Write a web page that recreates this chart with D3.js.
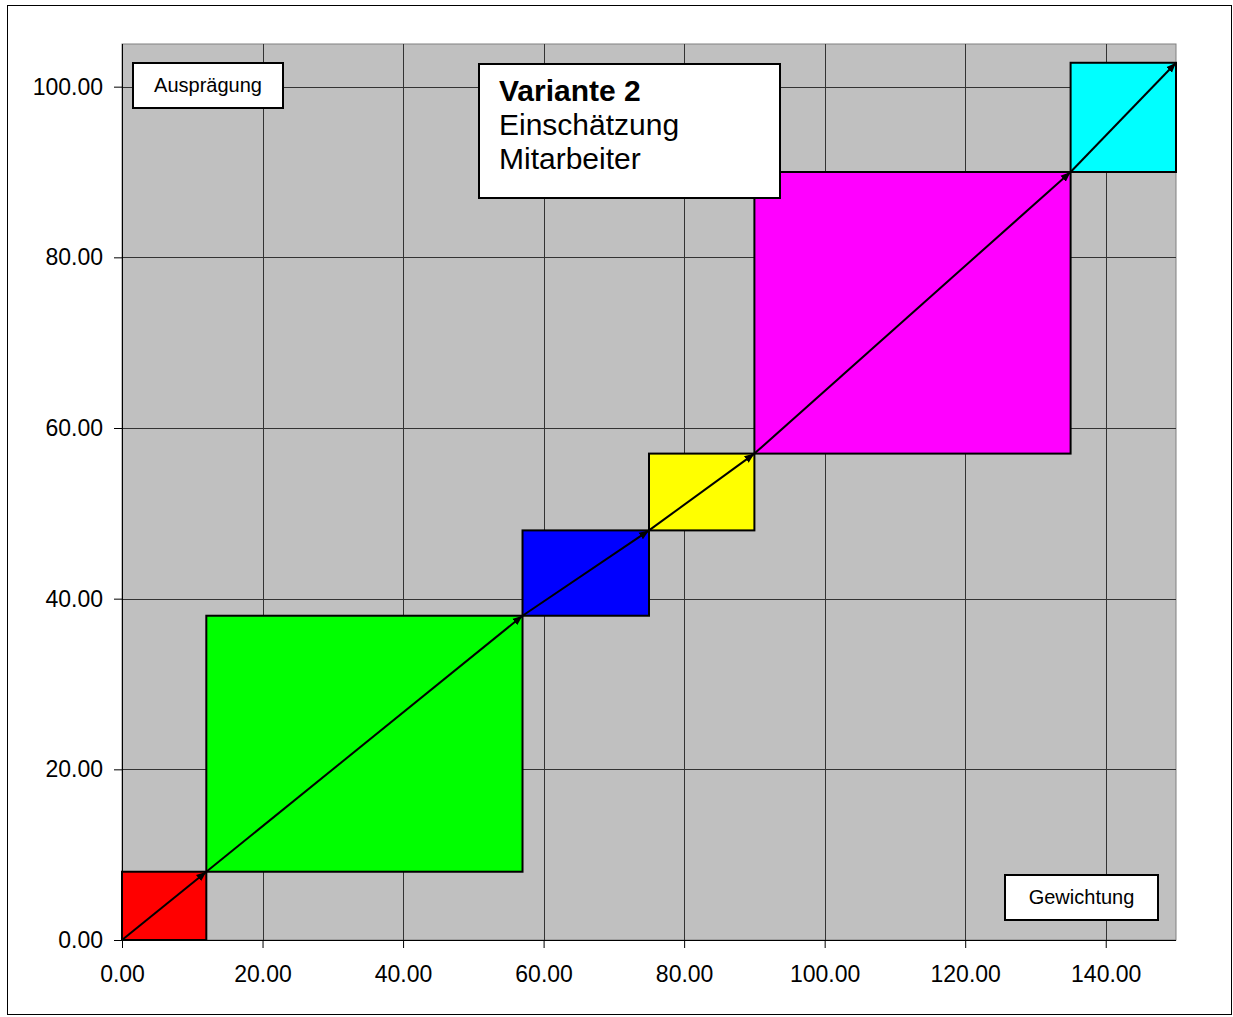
<!DOCTYPE html>
<html>
<head>
<meta charset="utf-8">
<script src="https://cdn.jsdelivr.net/npm/d3@7"></script>
<style>
  body { margin: 0; background: #fff; }
  svg { display: block; font-family: "Liberation Sans", Arial, sans-serif; }
</style>
</head>
<body>
<script>
// segment boundaries (Gewichtung on x, Ausprägung on y)
var xBounds = [0, 12, 57, 75, 90, 135, 150];
var yBounds = [0, 8, 38, 48, 57, 90, 102.8];
var colors = ["#ff0000", "#00ff00", "#0000ff", "#ffff00", "#ff00ff", "#00ffff"];
var xTicks = [0, 20, 40, 60, 80, 100, 120, 140];
var yTicks = [0, 20, 40, 60, 80, 100];
var titleLines = ["Variante 2", "Einschätzung", "Mitarbeiter"];

var w = 1233, h = 1017;
var plotL = 122, plotR = 1176, plotT = 44, plotB = 940;

var svg = d3.select("body").append("svg")
    .attr("width", w)
    .attr("height", h);

svg.append("rect")
    .attr("x", 7.5).attr("y", 5.5)
    .attr("width", 1224).attr("height", 1009)
    .attr("fill", "#fff")
    .attr("stroke", "#000")
    .attr("stroke-width", 1);

var xScale = d3.scaleLinear().domain([0, 150]).range([plotL, plotR]);
var yScale = d3.scaleLinear().domain([0, 105]).range([plotB, plotT]);

// plot area
svg.append("rect")
    .attr("x", plotL).attr("y", plotT)
    .attr("width", plotR - plotL).attr("height", plotB - plotT)
    .attr("fill", "#c0c0c0")
    .attr("stroke", "#808080")
    .attr("stroke-width", 1);

// grid
svg.append("g").selectAll("line")
    .data(xTicks.slice(1))
    .enter().append("line")
    .attr("x1", function(d) { return Math.round(xScale(d)) + 0.5; })
    .attr("x2", function(d) { return Math.round(xScale(d)) + 0.5; })
    .attr("y1", plotT).attr("y2", plotB)
    .attr("stroke", "#333").attr("stroke-width", 1);

svg.append("g").selectAll("line")
    .data(yTicks.slice(1))
    .enter().append("line")
    .attr("y1", function(d) { return Math.round(yScale(d)) + 0.5; })
    .attr("y2", function(d) { return Math.round(yScale(d)) + 0.5; })
    .attr("x1", plotL).attr("x2", plotR)
    .attr("stroke", "#333").attr("stroke-width", 1);

// rectangles
var segs = colors.map(function(c, i) {
    return { x0: xBounds[i], x1: xBounds[i + 1], y0: yBounds[i], y1: yBounds[i + 1], color: c };
});

svg.append("g").selectAll("rect")
    .data(segs)
    .enter().append("rect")
    .attr("x", function(d) { return xScale(d.x0); })
    .attr("y", function(d) { return yScale(d.y1); })
    .attr("width", function(d) { return xScale(d.x1) - xScale(d.x0); })
    .attr("height", function(d) { return yScale(d.y0) - yScale(d.y1); })
    .attr("fill", function(d) { return d.color; })
    .attr("stroke", "#000")
    .attr("stroke-width", 2);

// axes
var xAxis = d3.axisBottom(xScale)
    .tickValues(xTicks)
    .tickSize(8)
    .tickFormat(d3.format(".2f"));

var yAxis = d3.axisLeft(yScale)
    .tickValues(yTicks)
    .tickSize(8)
    .tickFormat(d3.format(".2f"));

var gx = svg.append("g")
    .attr("transform", "translate(0," + plotB + ")")
    .call(xAxis);
gx.select(".domain").attr("stroke", "#000").attr("d", "M" + plotL + ",0.5H" + plotR);
gx.selectAll(".tick line").attr("stroke", "#000");
gx.selectAll(".tick text")
    .attr("y", 26)
    .attr("font-size", "23px")
    .attr("font-family", "Liberation Sans, Arial, sans-serif")
    .attr("fill", "#000");

var gy = svg.append("g")
    .attr("transform", "translate(" + plotL + ",0)")
    .call(yAxis);
gy.select(".domain").attr("stroke", "#000").attr("d", "M0.5," + plotT + "V" + plotB);
gy.selectAll(".tick line").attr("stroke", "#000");
gy.selectAll(".tick text")
    .attr("x", -19)
    .attr("font-size", "23px")
    .attr("font-family", "Liberation Sans, Arial, sans-serif")
    .attr("fill", "#000");

// arrows
svg.append("defs").append("marker")
    .attr("id", "arr")
    .attr("viewBox", "0 0 10 10")
    .attr("refX", 10).attr("refY", 5)
    .attr("markerWidth", 5).attr("markerHeight", 5)
    .attr("orient", "auto")
    .append("path")
    .attr("d", "M0,1L10,5L0,9z")
    .attr("fill", "#000");

svg.append("g").selectAll("line")
    .data(segs)
    .enter().append("line")
    .attr("x1", function(d) { return xScale(d.x0); })
    .attr("y1", function(d) { return yScale(d.y0); })
    .attr("x2", function(d) { return xScale(d.x1); })
    .attr("y2", function(d) { return yScale(d.y1); })
    .attr("stroke", "#000")
    .attr("stroke-width", 2)
    .attr("marker-end", "url(#arr)");

// label boxes
function labelBox(x, y, bw, bh, txt) {
    svg.append("rect")
        .attr("x", x).attr("y", y)
        .attr("width", bw).attr("height", bh)
        .attr("fill", "#fff")
        .attr("stroke", "#000")
        .attr("stroke-width", 2);
    svg.append("text")
        .attr("x", x + bw / 2).attr("y", y + bh / 2 + 6)
        .attr("text-anchor", "middle")
        .attr("font-size", "20px")
        .text(txt);
}
labelBox(133, 63, 150, 45, "Ausprägung");
labelBox(1005, 875, 153, 45, "Gewichtung");

// title box
svg.append("rect")
    .attr("x", 479).attr("y", 64)
    .attr("width", 301).attr("height", 134)
    .attr("fill", "#fff")
    .attr("stroke", "#000")
    .attr("stroke-width", 2);

svg.append("g").selectAll("text")
    .data(titleLines)
    .enter().append("text")
    .attr("x", 499)
    .attr("y", function(d, i) { return 101 + i * 34; })
    .attr("font-size", "30px")
    .attr("font-weight", function(d, i) { return i === 0 ? "bold" : "normal"; })
    .text(function(d) { return d; });
</script>
</body>
</html>
